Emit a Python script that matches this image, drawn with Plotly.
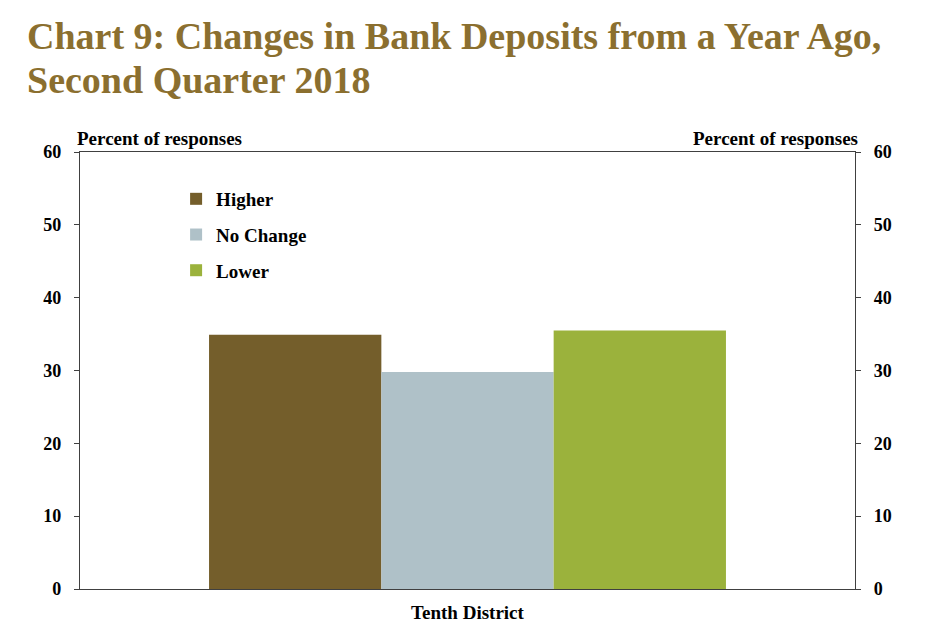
import plotly.graph_objects as go

categories = ["Tenth District"]
series_names = ["Higher", "No Change", "Lower"]
higher = [34.9]
no_change = [29.8]
lower = [35.5]
tick_vals = [0, 10, 20, 30, 40, 50, 60]
tick_text = ["<b>%d</b>" % v for v in tick_vals]
colors = ["#745E2B", "#AFC1C8", "#9BB23C"]

FONT = "Liberation Serif"
TITLE_COLOR = "#8B6F2F"
LINE = "#404040"

fig = go.Figure()
for name, vals, col in zip(series_names, [higher, no_change, lower], colors):
    fig.add_trace(go.Bar(x=categories, y=vals, name="<b>" + name + "</b>",
                         marker=dict(color=col, line=dict(width=0)),
                         legendgroup=name, hoverinfo="y"))
fig.add_trace(go.Scatter(x=categories, y=[None], yaxis="y2", showlegend=False,
                         hoverinfo="skip", mode="markers"))

axis_common = dict(range=[0, 60], tickvals=tick_vals, ticktext=tick_text, ticks="outside",
                   ticklen=5, tickcolor=LINE, ticklabelstandoff=9,
                   showgrid=False, zeroline=False, showline=True, linecolor=LINE, linewidth=1.3,
                   tickfont=dict(family=FONT, size=18, color="black"), fixedrange=True)

fig.update_layout(
    width=925, height=639,
    paper_bgcolor="white", plot_bgcolor="white",
    margin=dict(l=72, r=78, t=144, b=58, autoexpand=False),
    barmode="group", bargap=0.333, bargroupgap=0,
    xaxis=dict(showline=True, linecolor=LINE, linewidth=1.3, mirror=True, ticks="",
               tickvals=categories, ticktext=["<b>" + c + "</b>" for c in categories],
               ticklabelstandoff=6,
               tickfont=dict(family=FONT, size=19, color="black"), showgrid=False, fixedrange=True),
    yaxis=dict(**axis_common),
    yaxis2=dict(**axis_common, overlaying="y", side="right"),
    legend=dict(x=0.124, y=0.936, xanchor="left", yanchor="top", bgcolor="rgba(0,0,0,0)",
                font=dict(family=FONT, size=19, color="black"), traceorder="grouped",
                tracegroupgap=8, itemwidth=30),
    showlegend=True,
    annotations=[
        dict(text="<b>Chart 9: Changes in Bank Deposits from a Year Ago,</b>", xref="paper", yref="paper",
             x=-0.071, y=1.2654, xanchor="left", yanchor="middle", showarrow=False,
             font=dict(family=FONT, size=38, color=TITLE_COLOR)),
        dict(text="<b>Second Quarter 2018</b>", xref="paper", yref="paper",
             x=-0.071, y=1.1648, xanchor="left", yanchor="middle", showarrow=False,
             font=dict(family=FONT, size=38, color=TITLE_COLOR)),
        dict(text="<b>Percent of responses</b>", xref="paper", yref="paper", x=-0.0065, y=1.0,
             xanchor="left", yanchor="bottom", showarrow=False, yshift=1,
             font=dict(family=FONT, size=19, color="black")),
        dict(text="<b>Percent of responses</b>", xref="paper", yref="paper", x=1.0065, y=1.0,
             xanchor="right", yanchor="bottom", showarrow=False, yshift=1,
             font=dict(family=FONT, size=19, color="black")),
    ],
)
fig.write_html("out.html")
